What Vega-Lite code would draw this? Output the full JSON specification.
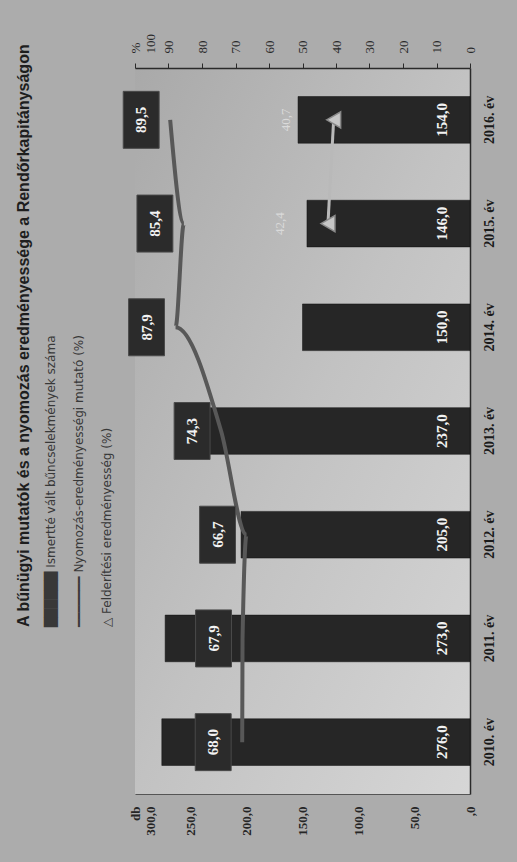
{
  "$schema": "https://vega.github.io/schema/vega-lite/v6.json",
  "width": 335,
  "height": 726,
  "autosize": {"type": "none"},
  "padding": {"left": 135, "top": 68, "right": 47, "bottom": 68},
  "background": "#acacac",
  "title": {
    "text": "A bűnügyi mutatók és a nyomozás eredményessége a Rendőrkapitányságon",
    "subtitle": ["██████  Ismertté vált bűncselekmények száma", "━━━━━━━  Nyomozás-eredményességi mutató (%)", "     △       Felderítési eredményesség (%)"],
    "orient": "left",
    "anchor": "start",
    "frame": "group",
    "dx": 167,
    "font": "Liberation Sans",
    "fontSize": 16,
    "fontWeight": "bold",
    "color": "#1e1e1e",
    "subtitleFont": "DejaVu Sans",
    "subtitleFontSize": 12,
    "subtitleColor": "#383838",
    "subtitleLineHeight": 28,
    "subtitlePadding": 14,
    "offset": 8
  },
  "config": {
    "locale": {"number": {"decimal": ",", "thousands": " ", "grouping": [3], "currency": ["", ""]}},
    "view": {
      "stroke": null,
      "fill": {
        "gradient": "linear", "x1": 0, "y1": 0, "x2": 1, "y2": 1,
        "stops": [{"offset": 0, "color": "#a9a9a9"}, {"offset": 0.5, "color": "#c2c2c2"}, {"offset": 1, "color": "#d6d6d6"}]
      }
    },
    "axis": {"grid": false, "title": null}
  },
  "encoding": {
    "y": {
      "field": "ev", "type": "nominal", "sort": "descending",
      "scale": {"paddingInner": 0.55, "paddingOuter": 0.275},
      "axis": {
        "orient": "right", "title": null, "ticks": false,
        "labelAngle": 270, "labelAlign": "center", "labelBaseline": "top",
        "labelPadding": 12, "labelFont": "Liberation Serif", "labelFontWeight": "bold",
        "labelFontSize": 14, "labelColor": "#1a1a1a",
        "domain": true, "domainColor": "#2a2a2a", "domainWidth": 1.5
      }
    }
  },
  "layer": [
    {
      "data": {"values": [
        {"ev": "2010. év", "db": 276.0},
        {"ev": "2011. év", "db": 273.0},
        {"ev": "2012. év", "db": 205.0},
        {"ev": "2013. év", "db": 237.0},
        {"ev": "2014. év", "db": 150.0},
        {"ev": "2015. év", "db": 146.0},
        {"ev": "2016. év", "db": 154.0}
      ]},
      "encoding": {
        "x": {
          "field": "db", "type": "quantitative",
          "scale": {"domain": [0, 300], "reverse": true, "nice": false},
          "axis": {
            "orient": "bottom", "title": null, "values": [0, 50, 100, 150, 200, 250, 300],
            "labelExpr": "datum.value === 0 ? ',0' : (datum.value === 300 ? ['db', replace(format(datum.value, '.1f'), '.', ',')] : replace(format(datum.value, '.1f'), '.', ','))",
            "labelAngle": 270, "labelAlign": "right", "labelBaseline": "middle",
            "labelPadding": 12, "ticks": false,
            "labelFont": "Liberation Serif", "labelFontWeight": "bold", "labelFontSize": 13,
            "labelColor": "#262626", "domainColor": "#555555", "domainWidth": 1
          }
        }
      },
      "layer": [
        {
          "mark": {"type": "bar", "fill": "#262626", "stroke": "#111111", "strokeWidth": 0.5}
        },
        {
          "mark": {"type": "text", "angle": 270, "xOffset": -28, "font": "Liberation Serif", "fontWeight": "bold", "fontSize": 15, "fill": "#f2f2f2"},
          "encoding": {
            "x": {"datum": 0, "type": "quantitative"},
            "text": {"field": "db", "type": "quantitative", "format": ".1f"}
          }
        }
      ]
    },
    {
      "encoding": {
        "x": {
          "field": "pct", "type": "quantitative",
          "scale": {"domain": [0, 100], "reverse": true, "nice": false},
          "axis": {
            "orient": "top", "title": null, "values": [0, 10, 20, 30, 40, 50, 60, 70, 80, 90, 100],
            "labelExpr": "datum.value === 100 ? ['%', '100'] : datum.label",
            "labelAngle": 270, "labelAlign": "left", "labelBaseline": "middle",
            "labelPadding": 10, "ticks": true, "tickSize": 5, "tickColor": "#2a2a2a",
            "labelFont": "Liberation Serif", "labelFontSize": 13, "labelColor": "#2a2a2a",
            "domainColor": "#2a2a2a", "domainWidth": 1.5
          }
        }
      },
      "layer": [
        {
          "data": {"name": "arany", "values": [
            {"ev": "2010. év", "pct": 68.0},
            {"ev": "2011. év", "pct": 67.9},
            {"ev": "2012. év", "pct": 66.7},
            {"ev": "2013. év", "pct": 74.3},
            {"ev": "2014. év", "pct": 87.9},
            {"ev": "2015. év", "pct": 85.4},
            {"ev": "2016. év", "pct": 89.5}
          ]},
          "mark": {"type": "line", "interpolate": "monotone", "stroke": "#585858", "strokeWidth": 4}
        },
        {
          "data": {"name": "arany"},
          "mark": {"type": "point", "shape": "M-0.63,-1H0.63V1H-0.63Z", "size": 3249, "filled": true, "fill": "#2b2b2b", "stroke": "#4a4a4a", "strokeWidth": 1, "opacity": 1, "xOffset": -29}
        },
        {
          "data": {"name": "arany"},
          "mark": {"type": "text", "angle": 270, "xOffset": -29, "font": "Liberation Serif", "fontWeight": "bold", "fontSize": 15, "fill": "#f2f2f2"},
          "encoding": {"text": {"field": "pct", "type": "quantitative", "format": ".1f"}}
        },
        {
          "data": {"name": "felderites", "values": [
            {"ev": "2015. év", "pct": 42.4},
            {"ev": "2016. év", "pct": 40.7}
          ]},
          "mark": {"type": "line", "stroke": "#b9b9b9", "strokeWidth": 3}
        },
        {
          "data": {"name": "felderites"},
          "mark": {"type": "point", "shape": "triangle-left", "size": 260, "filled": true, "fill": "#c6c6c6", "stroke": "#8a8a8a", "strokeWidth": 1.5, "opacity": 1}
        },
        {
          "data": {"name": "felderites"},
          "mark": {"type": "text", "angle": 270, "xOffset": -48, "font": "Liberation Serif", "fontSize": 13, "fill": "#dadada"},
          "encoding": {"text": {"field": "pct", "type": "quantitative", "format": ".1f"}}
        }
      ]
    }
  ],
  "resolve": {"scale": {"x": "independent"}}
}
